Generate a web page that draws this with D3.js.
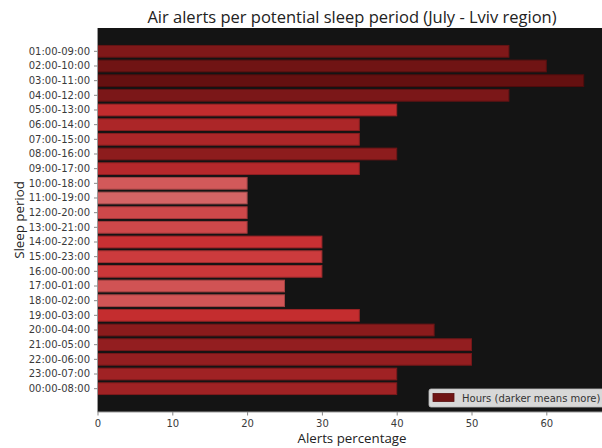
<!DOCTYPE html>
<html>
<head>
<meta charset="utf-8">
<script src="https://cdn.jsdelivr.net/npm/d3@7"></script>
<style>
  html, body { margin: 0; padding: 0; background: #ffffff; overflow: hidden; }
  svg { display: block; }
</style>
</head>
<body>
<svg id="chart" width="602" height="448"></svg>
<script>
// ---- data ----
const periods = [
  "01:00-09:00","02:00-10:00","03:00-11:00","04:00-12:00","05:00-13:00","06:00-14:00",
  "07:00-15:00","08:00-16:00","09:00-17:00","10:00-18:00","11:00-19:00","12:00-20:00",
  "13:00-21:00","14:00-22:00","15:00-23:00","16:00-00:00","17:00-01:00","18:00-02:00",
  "19:00-03:00","20:00-04:00","21:00-05:00","22:00-06:00","23:00-07:00","00:00-08:00"
];
const alertsPct = [55, 60, 65, 55, 40, 35, 35, 40, 35, 20, 20, 20, 20, 30, 30, 30, 25, 25, 35, 45, 50, 50, 40, 40];
// relative alert-hour intensity (darker means more), estimated from bar shading
const hoursIntensity = [76, 86, 94, 79, 35, 48, 48, 68, 42, 10, 5, 18, 18, 29, 24, 26, 13, 12, 33, 70, 64, 64, 56, 56];
const xTicks = [0, 10, 20, 30, 40, 50, 60];
const titleText = "Air alerts per potential sleep period (July - Lviv region)";
const xLabel = "Alerts percentage";
const yLabel = "Sleep period";
const legendLabel = "Hours (darker means more)";

// ---- layout ----
const svg = d3.select("#chart");
const mLeft = 97.5, mTop = 28, mBottom = 412;
const xMax = d3.max(alertsPct) * 1.05;
const pxPerUnit = 7.48;
const mRight = mLeft + xMax * pxPerUnit;

const x = d3.scaleLinear().domain([0, xMax]).range([mLeft, mRight]);
const n = periods.length;
const y = d3.scaleLinear().domain([-0.4 - 0.05 * (n - 0.2), n - 0.6 + 0.05 * (n - 0.2)]).range([mTop, mBottom]);
const color = d3.scaleLinear().domain([0, 30, 100]).range(["#d66f6f", "#c92e31", "#5a0d0d"]);

// axes background
svg.append("rect")
  .attr("x", mLeft).attr("y", mTop)
  .attr("width", mRight - mLeft).attr("height", mBottom - mTop)
  .attr("fill", "#141414");

// bars
svg.append("g").selectAll("rect")
  .data(periods)
  .join("rect")
  .attr("x", x(0))
  .attr("y", (d, i) => y(i - 0.4))
  .attr("width", (d, i) => x(alertsPct[i]) - x(0))
  .attr("height", (d, i) => y(i + 0.4) - y(i - 0.4))
  .attr("fill", (d, i) => color(hoursIntensity[i]))
  .attr("stroke", (d, i) => d3.color(color(hoursIntensity[i])).darker(0.7))
  .attr("stroke-width", 1);

// spines
svg.append("line").attr("x1", mLeft).attr("x2", mLeft).attr("y1", mTop).attr("y2", mBottom)
  .attr("stroke", "#9a9a9a").attr("stroke-width", 1);
svg.append("line").attr("x1", mLeft).attr("x2", mRight).attr("y1", mBottom).attr("y2", mBottom)
  .attr("stroke", "#9a9a9a").attr("stroke-width", 1);

// x axis
const xAxis = d3.axisBottom(x).tickValues(xTicks).tickSize(3.5).tickPadding(4).tickFormat(d3.format("d"));
const gx = svg.append("g").attr("transform", `translate(0,${mBottom})`).call(xAxis);
gx.select(".domain").remove();
gx.selectAll(".tick line").attr("stroke", "#888");
gx.selectAll(".tick text").attr("fill", "#3a3a3a").attr("font-family", "DejaVu Sans").attr("font-size", 10);

// y axis
const yBand = d3.scaleBand().domain(periods).range([y(-0.5), y(n - 0.5)]);
const yAxis = d3.axisLeft(yBand).tickSize(3.5).tickPadding(4);
const gy = svg.append("g").attr("transform", `translate(${mLeft},0)`).call(yAxis);
gy.select(".domain").remove();
gy.selectAll(".tick line").attr("stroke", "#888");
gy.selectAll(".tick text").attr("fill", "#3a3a3a").attr("font-family", "DejaVu Sans").attr("font-size", 10);

// title and labels
svg.append("text")
  .attr("x", 352).attr("y", 22.5)
  .attr("text-anchor", "middle")
  .attr("font-family", "Open Sans").attr("font-size", 16.5)
  .attr("fill", "#222")
  .text(titleText);

svg.append("text")
  .attr("x", 352).attr("y", 443)
  .attr("text-anchor", "middle")
  .attr("font-family", "Open Sans").attr("font-size", 13.3)
  .attr("fill", "#222")
  .text(xLabel);

svg.append("text")
  .attr("transform", `translate(24,${(mTop + mBottom) / 2}) rotate(-90)`)
  .attr("text-anchor", "middle")
  .attr("font-family", "Open Sans").attr("font-size", 13.3)
  .attr("fill", "#222")
  .text(yLabel);

// legend
const lg = svg.append("g").attr("transform", "translate(429,389)");
lg.append("rect").attr("x", 0).attr("y", 0).attr("width", 178).attr("height", 18).attr("rx", 2)
  .attr("fill", "#d8d8d8").attr("stroke", "#bdbdbd").attr("stroke-width", 0.8);
lg.append("rect").attr("x", 4).attr("y", 4.5).attr("width", 21).attr("height", 8)
  .attr("fill", color(86)).attr("stroke", d3.color(color(86)).darker(0.7)).attr("stroke-width", 0.8);
lg.append("text").attr("x", 33).attr("y", 12.7)
  .attr("font-family", "DejaVu Sans").attr("font-size", 10).attr("fill", "#333")
  .text(legendLabel);
</script>
</body>
</html>
